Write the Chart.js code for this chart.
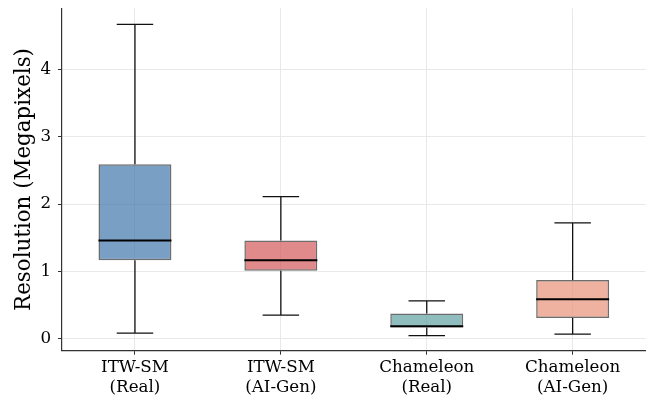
<!DOCTYPE html>
<html><head><meta charset="utf-8">
<script src="https://cdn.jsdelivr.net/npm/chart.js@4.4.1/dist/chart.umd.min.js"></script>
<style>html,body{margin:0;padding:0;background:#fff}#wrap{width:649px;height:400px}</style>
</head><body><div id="wrap"><canvas id="c" width="649" height="400"></canvas></div>
<script>
const categories = [["ITW-SM","(Real)"],["ITW-SM","(AI-Gen)"],["Chameleon","(Real)"],["Chameleon","(AI-Gen)"]];
const whiskerLow  = [0.08, 0.35, 0.045, 0.065];
const q1          = [1.165, 1.01, 0.165, 0.305];
const median      = [1.46, 1.165, 0.183, 0.584];
const q3          = [2.59, 1.457, 0.372, 0.871];
const whiskerHigh = [4.67, 2.11, 0.56, 1.72];
const yTicks = [0, 1, 2, 3, 4];
const boxColors = ["rgba(66,118,172,0.7)","rgba(212,88,91,0.7)","rgba(95,159,159,0.7)","rgba(234,146,119,0.7)"];

const boxPlugin = {
  id: 'boxExtras',
  afterDatasetsDraw(chart) {
    const ctx = chart.ctx, xs = chart.scales.x, ys = chart.scales.y;
    const meta = chart.getDatasetMeta(0);
    ctx.save();
    for (let i = 0; i < categories.length; i++) {
      const el = meta.data[i];
      const x = xs.getPixelForValue(i);
      const w = el.width;
      const cap = w / 4;
      ctx.strokeStyle = '#111';
      ctx.lineWidth = 1.3;
      ctx.beginPath();
      ctx.moveTo(x, ys.getPixelForValue(q3[i])); ctx.lineTo(x, ys.getPixelForValue(whiskerHigh[i]));
      ctx.moveTo(x, ys.getPixelForValue(q1[i])); ctx.lineTo(x, ys.getPixelForValue(whiskerLow[i]));
      ctx.moveTo(x - cap, ys.getPixelForValue(whiskerHigh[i])); ctx.lineTo(x + cap, ys.getPixelForValue(whiskerHigh[i]));
      ctx.moveTo(x - cap, ys.getPixelForValue(whiskerLow[i])); ctx.lineTo(x + cap, ys.getPixelForValue(whiskerLow[i]));
      ctx.stroke();
      ctx.strokeStyle = '#000';
      ctx.lineWidth = 2;
      ctx.beginPath();
      const ym = ys.getPixelForValue(median[i]);
      ctx.moveTo(x - w/2, ym); ctx.lineTo(x + w/2, ym);
      ctx.stroke();
    }
    ctx.restore();
  }
};

new Chart(document.getElementById('c'), {
  type: 'bar',
  data: {
    labels: categories,
    datasets: [{
      data: q1.map((v, i) => [v, q3[i]]),
      backgroundColor: boxColors,
      borderColor: 'rgba(60,60,60,0.75)',
      borderWidth: 1.5,
      borderSkipped: false,
      categoryPercentage: 1,
      barPercentage: 0.5
    }]
  },
  options: {
    responsive: false,
    animation: false,
    devicePixelRatio: 1,
    layout: { padding: { top: 8.3, right: 3.4, left: 0, bottom: 0 } },
    plugins: { legend: { display: false }, tooltip: { enabled: false } },
    scales: {
      x: {
        grid: { offset: false, color: '#e8e8e8', tickColor: '#333', tickLength: 4, lineWidth: 1 },
        border: { color: '#333', width: 1.2 },
        ticks: { color: '#000', padding: 3, font: { family: 'DejaVu Serif', size: 16.7 }, maxRotation: 0 },
        afterFit(s) { s.height = 49.3; s.paddingLeft = 0; s.paddingRight = 0; }
      },
      y: {
        min: -0.18, max: 4.91,
        afterBuildTicks(s) { s.ticks = yTicks.map(v => ({ value: v })); },
        grid: { color: '#e8e8e8', tickColor: '#333', tickLength: 4, lineWidth: 1 },
        border: { color: '#333', width: 1.2 },
        ticks: { color: '#000', padding: 7, font: { family: 'DejaVu Serif', size: 16.7 } },
        title: { display: true, text: 'Resolution (Megapixels)', color: '#000', font: { family: 'DejaVu Serif', size: 21.4 }, padding: { top: 11.5, bottom: 0 } },
        afterFit(s) { s.width = 62; s.paddingTop = 0; s.paddingBottom = 0; }
      }
    }
  },
  plugins: [boxPlugin]
});
</script></body></html>
